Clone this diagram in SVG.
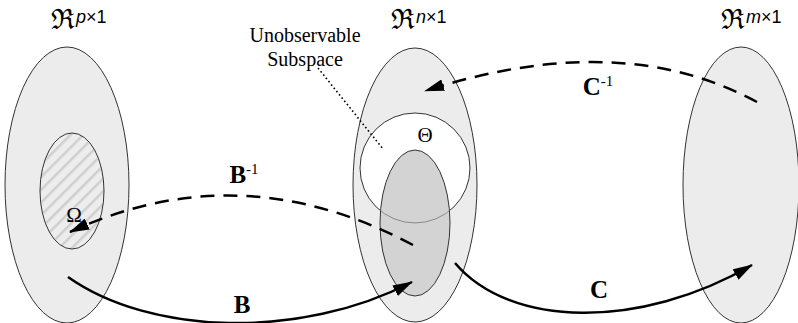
<svg xmlns="http://www.w3.org/2000/svg" width="798" height="323" viewBox="0 0 798 323">
<style>
.space{fill:#ececec;stroke:#333;stroke-width:1}
.sub{stroke:#333;stroke-width:1}
.lbl{font-family:"Liberation Serif","Times New Roman",serif;fill:#000}
.frak{font-family:"DejaVu Serif",serif;font-size:28px}
.sup{font-family:"Liberation Sans",Arial,sans-serif;font-size:18px}
.op{font-family:"Liberation Serif","Times New Roman",serif;font-weight:bold;font-size:25px}
.conn{fill:none;stroke:#000;stroke-width:2.5}
.dash{stroke-dasharray:14 9}
</style>
<defs>
<pattern id="hatch" width="9" height="9" patternUnits="userSpaceOnUse" patternTransform="rotate(45)">
<rect width="9" height="9" fill="#ededed"/>
<rect x="0" y="0" width="2.5" height="9" fill="#cfcfcf"/>
</pattern>
<marker id="arrow" viewBox="0 0 20 12" refX="19" refY="6" markerWidth="20" markerHeight="12" markerUnits="userSpaceOnUse" orient="auto">
<path d="M0,0 L20,6 L0,12 z" fill="#000"/>
</marker>
<clipPath id="rc"><ellipse cx="415" cy="223" rx="35" ry="73"/></clipPath>
</defs>

<g id="space-p">
<ellipse class="space" cx="67" cy="185" rx="62" ry="138"/>
<text class="lbl" x="51" y="29"><tspan class="frak">ℜ</tspan><tspan class="sup" dx="1" dy="-6"><tspan font-style="italic">p</tspan>×1</tspan></text>
</g>

<g id="omega">
<ellipse class="sub" cx="72" cy="191" rx="32" ry="58" fill="url(#hatch)"/>
<text class="lbl" x="74" y="222" font-size="21" text-anchor="middle">Ω</text>
</g>

<g id="space-n">
<ellipse class="space" cx="415" cy="185" rx="62" ry="137"/>
<text class="lbl" x="391" y="29"><tspan class="frak">ℜ</tspan><tspan class="sup" dx="1" dy="-6"><tspan font-style="italic">n</tspan>×1</tspan></text>
</g>

<g id="theta">
<circle class="sub" cx="415" cy="168" r="55" fill="#fff"/>
<text class="lbl" x="425" y="142" font-size="21" text-anchor="middle">Θ</text>
</g>

<g id="range">
<ellipse class="sub" cx="415" cy="223" rx="35" ry="73" fill="#d3d3d3"/>
<path d="M360,168 A55,55 0 0 0 470,168" fill="none" stroke="#8a8a8a" stroke-width="1" clip-path="url(#rc)"/>
</g>

<g id="space-m">
<ellipse class="space" cx="741" cy="185" rx="58" ry="138"/>
<text class="lbl" x="721" y="29"><tspan class="frak">ℜ</tspan><tspan class="sup" dx="1" dy="-6"><tspan font-style="italic">m</tspan>×1</tspan></text>
</g>

<g id="unobservable">
<text class="lbl" x="305" y="42" font-size="20" text-anchor="middle">Unobservable</text>
<text class="lbl" x="305" y="66" font-size="20" text-anchor="middle">Subspace</text>
<line x1="318" y1="68" x2="383" y2="149" stroke="#000" stroke-width="1.6" stroke-dasharray="1.6 2.6"/>
</g>

<g id="connectors">
<path class="conn dash" d="M413,245 Q240,153 70,232" marker-end="url(#arrow)"/>
<path class="conn dash" d="M757,102 Q620,28 425,91" marker-end="url(#arrow)"/>
<path class="conn" d="M68,277 C150,335 300,340 412,282" marker-end="url(#arrow)"/>
<path class="conn" d="M455,263 C510,328 640,330 752,265" marker-end="url(#arrow)"/>
<text class="op" x="244" y="183" text-anchor="middle">B<tspan font-weight="normal" font-size="15" dy="-9">-1</tspan></text>
<text class="op" x="242" y="313" text-anchor="middle">B</text>
<text class="op" x="599" y="298" text-anchor="middle">C</text>
<text class="op" x="598" y="95" text-anchor="middle">C<tspan font-weight="normal" font-size="15" dy="-9">-1</tspan></text>
</g>
</svg>
